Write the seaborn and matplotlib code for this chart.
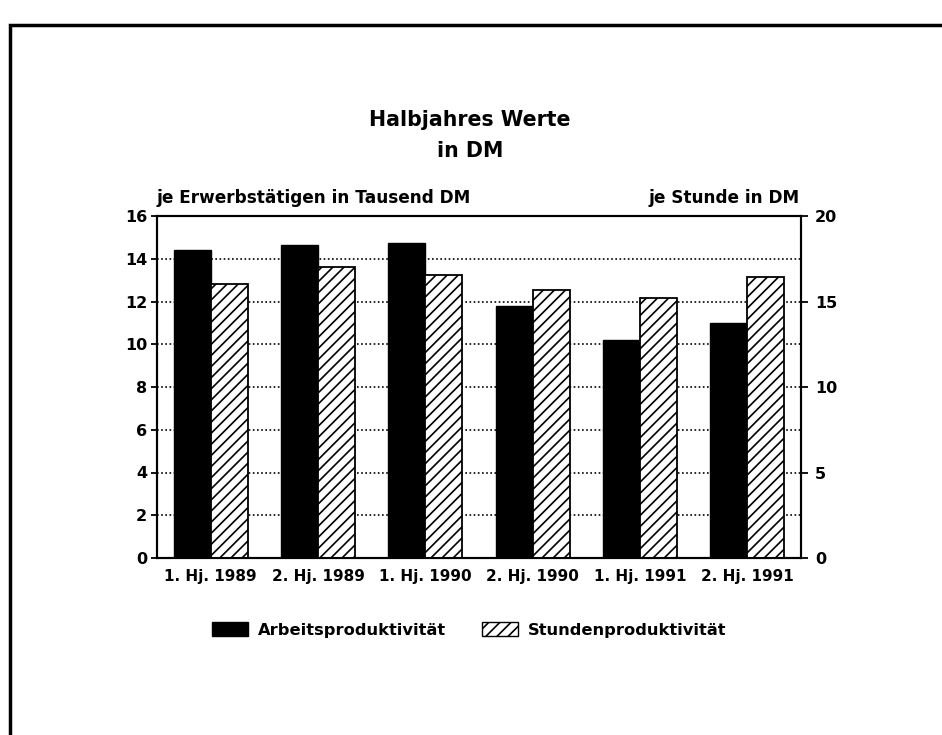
import pandas as pd
import numpy as np
import matplotlib
matplotlib.use("Agg")
import matplotlib.pyplot as plt
import seaborn as sns
from matplotlib.patches import Patch, Rectangle

perioden = ["1. Hj. 1989", "2. Hj. 1989", "1. Hj. 1990",
            "2. Hj. 1990", "1. Hj. 1991", "2. Hj. 1991"]
arbeit = [14.4, 14.65, 14.75, 11.8, 10.2, 11.0]       # linke Achse, Tausend DM
stunde = [16.05, 17.0, 16.55, 15.7, 15.2, 16.45]      # rechte Achse, DM
reihen = ["Arbeitsproduktivität", "Stundenproduktivität"]

df = pd.DataFrame({
    "Periode": perioden * 2,
    "Reihe": [reihen[0]] * len(perioden) + [reihen[1]] * len(perioden),
    "Wert": arbeit + stunde,
})

sns.set_style("white")
plt.rcParams["font.family"] = ["DejaVu Sans"]
plt.rcParams["font.weight"] = "bold"
plt.rcParams["text.color"] = "black"
plt.rcParams["xtick.color"] = "black"
plt.rcParams["ytick.color"] = "black"
plt.rcParams["hatch.linewidth"] = 1.2

W, H = 942, 735
fig = plt.figure(figsize=(W / 100, H / 100), dpi=100)
ax = fig.add_axes([157 / W, 1 - 558 / H, (801 - 157) / W, (558 - 216) / H])
ax2 = ax.twinx()

palette = {reihen[0]: "black", reihen[1]: "white"}

sns.barplot(data=df[df["Reihe"] == reihen[0]], x="Periode", y="Wert",
            hue="Reihe", hue_order=reihen, order=perioden, palette=palette,
            width=0.69, gap=0, dodge=True, edgecolor="black", linewidth=1,
            ax=ax, legend=False)
sns.barplot(data=df[df["Reihe"] == reihen[1]], x="Periode", y="Wert",
            hue="Reihe", hue_order=reihen, order=perioden, palette=palette,
            width=0.69, gap=0, dodge=True, edgecolor="black", linewidth=1.3,
            ax=ax2, legend=False)
for p in ax2.patches:
    p.set_hatch("///")

ax.set_xlim(-0.5, len(perioden) - 0.5)
ax.set_ylim(0, 16)
ax2.set_ylim(0, 20)
ax.set_yticks(np.arange(0, 17, 2))
ax2.set_yticks(np.arange(0, 21, 5))
ax.set_xlabel("")
ax.set_ylabel("")
ax2.set_ylabel("")

ax.set_axisbelow(True)
ax.yaxis.grid(True, linestyle=(0, (1, 1.5)), color="black", linewidth=1.2)
ax2.grid(False)

for a in (ax, ax2):
    for s in a.spines.values():
        s.set_color("black")
        s.set_linewidth(1.5)
        s.set_visible(True)
ax.tick_params(axis="y", direction="out", length=4, width=1.3, labelsize=11.5, pad=3)
ax2.tick_params(axis="y", direction="out", length=5, width=1.3, labelsize=11.5, pad=5)
ax.tick_params(axis="x", length=0, labelsize=11, pad=8)
for lab in ax.get_xticklabels() + ax.get_yticklabels() + ax2.get_yticklabels():
    lab.set_fontweight("bold")

fig.text(470 / W, 1 - 120 / H, "Halbjahres Werte", ha="center", va="center",
         fontsize=14.8, fontweight="bold")
fig.text(470 / W, 1 - 151 / H, "in DM", ha="center", va="center",
         fontsize=14.8, fontweight="bold")
fig.text(157 / W, 1 - 198 / H, "je Erwerbstätigen in Tausend DM", ha="left",
         va="center", fontsize=12.2, fontweight="bold")
fig.text(800 / W, 1 - 198 / H, "je Stunde in DM", ha="right",
         va="center", fontsize=12.2, fontweight="bold")

handles = [Patch(facecolor="black", edgecolor="black"),
           Patch(facecolor="white", edgecolor="black", hatch="///")]
fig.legend(handles, reihen, loc="center", bbox_to_anchor=(469 / W, 1 - 630 / H),
           ncol=2, frameon=False, fontsize=11.7, handlelength=2.25,
           handleheight=0.9, columnspacing=2.2, handletextpad=0.6)

fig.add_artist(Rectangle((10 / W, -0.05), 1.1, 1 - 25 / H + 0.05,
                         transform=fig.transFigure, fill=False,
                         edgecolor="black", linewidth=2.5))

fig.savefig("out.png", dpi=100)
